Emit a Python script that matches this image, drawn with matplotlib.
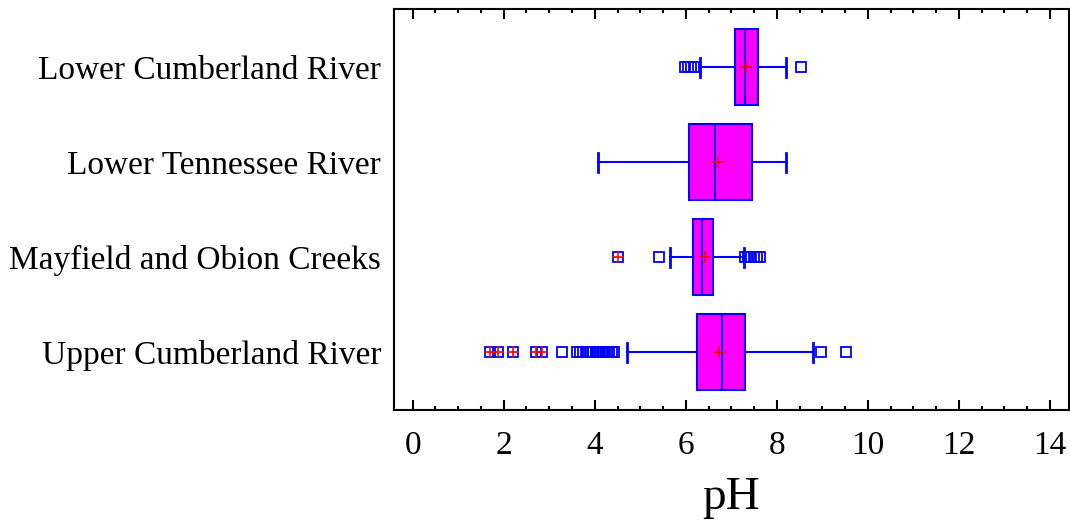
import matplotlib
matplotlib.use('Agg')
import matplotlib.pyplot as plt
from matplotlib.ticker import MultipleLocator

plt.rcParams['font.family'] = ['Liberation Serif', 'DejaVu Serif']

# groups, bottom to top
groups = ['Upper Cumberland River', 'Mayfield and Obion Creeks',
          'Lower Tennessee River', 'Lower Cumberland River']
q1 = [6.25, 6.16, 6.06, 7.09]
median = [6.80, 6.36, 6.64, 7.30]
q3 = [7.30, 6.60, 7.46, 7.58]
whis_lo = [4.70, 5.65, 4.08, 6.32]
whis_hi = [8.80, 7.28, 8.20, 8.20]
mean = [6.73, 6.43, 6.71, 7.33]
# outside points (square) and far outside points (square + red cross)
outside = [
    [3.29, 3.60, 3.68, 3.75, 3.80, 3.86, 3.92, 3.97, 4.02, 4.07, 4.12,
     4.17, 4.22, 4.27, 4.32, 4.37, 4.42, 8.96, 9.51],
    [5.42, 7.30, 7.37, 7.44, 7.50, 7.57, 7.64],
    [],
    [5.98, 6.05, 6.12, 6.18, 8.52],
]
far_out = [
    [1.70, 1.88, 2.21, 2.70, 2.85],
    [4.51],
    [],
    [],
]

BLUE = '#0000ff'
FILL = '#ff00ff'

fig = plt.figure(figsize=(10.7, 5.21), dpi=100)
ax = fig.add_axes([0.3678, 0.213, 0.6314, 0.769])

stats = []
for i in range(len(groups)):
    stats.append(dict(label=groups[i], q1=q1[i], med=median[i], q3=q3[i],
                      whislo=whis_lo[i], whishi=whis_hi[i], mean=mean[i],
                      fliers=outside[i] + far_out[i]))

ax.bxp(stats, positions=range(len(groups)), widths=0.8, vert=False,
       patch_artist=True, showmeans=True, showfliers=True,
       boxprops=dict(facecolor=FILL, edgecolor=BLUE, linewidth=1.5),
       medianprops=dict(color=BLUE, linewidth=1.5),
       whiskerprops=dict(color=BLUE, linewidth=1.5),
       capprops=dict(color=BLUE, linewidth=2),
       capwidths=0.2,
       meanprops=dict(marker='+', markeredgecolor='red', markersize=8,
                      markeredgewidth=1.2),
       flierprops=dict(marker='s', markerfacecolor='none', markeredgecolor=BLUE,
                       markersize=6.5, markeredgewidth=1.3, linestyle='none'))

for i, pts in enumerate(far_out):
    if pts:
        ax.plot(pts, [i] * len(pts), linestyle='none', marker='+',
                markeredgecolor='red', markersize=8, markeredgewidth=1.2, zorder=5)

ax.set_xlim(-0.42, 14.42)
ax.set_ylim(-0.61, 3.61)
ax.xaxis.set_major_locator(MultipleLocator(2))
ax.xaxis.set_minor_locator(MultipleLocator(0.5))
ax.tick_params(axis='x', which='major', direction='in', length=7, width=1.5,
               top=True, labelsize=24, pad=15)
ax.tick_params(axis='x', which='minor', direction='in', length=3, width=1.5, top=True)
ax.tick_params(axis='y', length=0, labelsize=24, pad=9)
for s in ax.spines.values():
    s.set_linewidth(1.5)

ax.set_xlabel('pH', fontsize=34, labelpad=11)

fig.savefig('out.png', dpi=100)
